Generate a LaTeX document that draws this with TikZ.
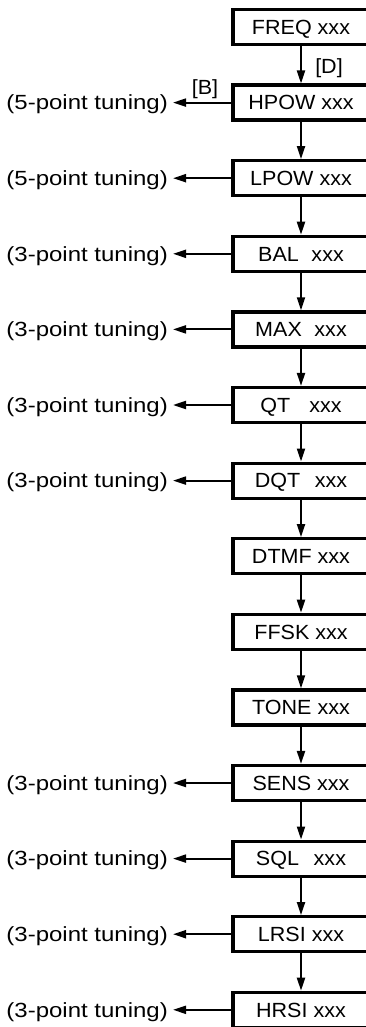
\documentclass[tikz,border=0pt]{standalone}
\usepackage{fontspec}
\usepackage{graphicx}
\setmainfont{Liberation Sans}
\usetikzlibrary{arrows.meta}
\newcommand\bfnt{\fontsize{20.5}{24}\selectfont}
\newcommand\bx[1]{\scalebox{1.05}[1]{#1}}
\newcommand\tx[1]{\scalebox{1.17}[1]{#1}}
\begin{document}
\begin{tikzpicture}[x=1pt,y=-1pt,
  box/.style={draw,line width=3.2pt,minimum width=136pt,minimum height=35pt,inner sep=0pt,font=\bfnt,text depth=0pt,text height=14.7pt},
  tune/.style={anchor=east,inner sep=0pt,font=\bfnt},
  lab/.style={inner sep=0pt,font=\bfnt},
  arr/.style={line width=2pt,-{Triangle[length=13pt,width=8pt]}}]
\useasboundingbox (0,0) rectangle (365,1027);
\node[box] (b0)  at (301,27)    {\bx{FREQ xxx}};
\node[box] (b1)  at (301,102.6) {\bx{HPOW xxx}};
\node[box] (b2)  at (301,178.2) {\bx{LPOW xxx}};
\node[box] (b3)  at (301,253.8) {\bx{BAL\hspace{12pt}xxx}};
\node[box] (b4)  at (301,329.4) {\bx{MAX\hspace{12pt}xxx}};
\node[box] (b5)  at (301,405)   {\bx{QT\hspace{18pt}xxx}};
\node[box] (b6)  at (301,480.6) {\bx{DQT\hspace{14pt}xxx}};
\node[box] (b7)  at (301,556.2) {\bx{DTMF xxx}};
\node[box] (b8)  at (301,631.8) {\bx{FFSK xxx}};
\node[box] (b9)  at (301,707.4) {\bx{TONE xxx}};
\node[box] (b10) at (301,783)   {\bx{SENS xxx}};
\node[box] (b11) at (301,858.6) {\bx{SQL\hspace{14pt}xxx}};
\node[box] (b12) at (301,934.2) {\bx{LRSI xxx}};
\node[box] (b13) at (301,1009.8){\bx{HRSI xxx}};
\foreach \i [evaluate=\i as \j using int(\i+1)] in {0,...,12}
  \draw[arr] (b\i.south) -- (b\j.north);
\foreach \i/\n in {1/5,2/5,3/3,4/3,5/3,6/3,10/3,11/3,12/3,13/3}{
  \node[tune] (t\i) at ([yshift=-2pt]b\i.west -| 168,0) {\tx{(\n-point tuning)}};
  \coordinate (e\i) at (b\i.west -| 173,0);
  \draw[arr] (b\i.west) -- (e\i);
}
\node[lab] (lD) at (329,68) {\bx{[D]}};
\node[lab] (lB) at (205,89) {\bx{[B]}};
\end{tikzpicture}
\end{document}
